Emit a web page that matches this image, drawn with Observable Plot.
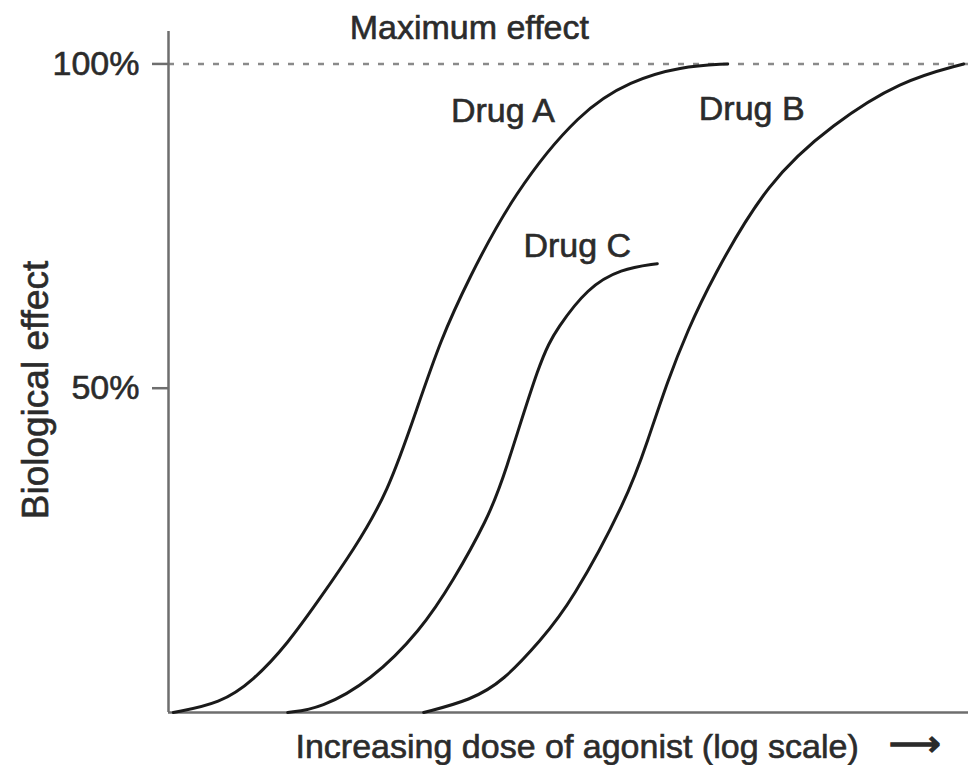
<!DOCTYPE html>
<html>
<head>
<meta charset="utf-8">
<script src="https://cdn.jsdelivr.net/npm/d3@7"></script>
<script src="https://cdn.jsdelivr.net/npm/@observablehq/plot@0.6"></script>
<style>
  html, body { margin: 0; padding: 0; background: #fff; }
  #chart svg { display: block; }
  #chart svg text { stroke: #2b2b2b; stroke-width: 0.6px; paint-order: stroke; }
  #chart svg g[font-size="36"] text { stroke-width: 1.6px; }
</style>
</head>
<body>
<div id="chart"></div>
<script>
// Log dose (arbitrary units) and biological effect (%)
const drugAX = [0.06, 0.65, 1.06, 1.49, 1.90, 2.31, 2.74, 3.11, 3.40, 3.74, 4.31, 5.15, 5.78, 6.40, 6.99];
const drugAY = [0, 1.4, 4.9, 10.6, 17.7, 25.0, 33.8, 47.0, 57.4, 66.6, 80.0, 92.8, 97.4, 99.6, 100];

const drugCX = [1.49, 1.90, 2.53, 3.15, 3.56, 3.99, 4.19, 4.65, 4.86, 5.24, 5.65, 6.11];
const drugCY = [0, 0.6, 4.9, 12.6, 20.3, 29.9, 36.1, 54.7, 59.3, 65.5, 68.4, 69.2];

const drugBX = [3.19, 3.78, 4.19, 4.65, 5.03, 5.74, 5.99, 6.24, 6.49, 6.78, 7.49, 8.31, 9.15, 9.94];
const drugBY = [0, 1.9, 4.9, 11.1, 16.8, 33.1, 41.9, 51.2, 58.9, 66.6, 82.0, 90.8, 97.4, 100];

const yTicks = [50, 100];
const maxEffect = [100];

const labelText = ["Maximum effect", "Drug A", "Drug B", "Drug C"];
const labelX = [3.76, 4.18, 7.29, 5.11];
const labelY = [103.9, 91.0, 91.3, 70.2];

const xTitle = "Increasing dose of agonist (log scale)";
const xArrow = "\u27F6";
const yTitle = "Biological effect";

const series = [
  ...drugAX.map((x, i) => ({drug: "Drug A", x, y: drugAY[i]})),
  ...drugCX.map((x, i) => ({drug: "Drug C", x, y: drugCY[i]})),
  ...drugBX.map((x, i) => ({drug: "Drug B", x, y: drugBY[i]}))
];
const labels = labelText.map((t, i) => ({t, x: labelX[i], y: labelY[i]}));

const FONT = "'Liberation Sans', Arial, sans-serif";
const TXT = "#2b2b2b";
const AX = "#6e6e6e";

const chart = Plot.plot({
  width: 977,
  height: 765,
  marginLeft: 168,
  marginRight: 9,
  marginTop: 31,
  marginBottom: 53,
  style: {fontFamily: FONT, background: "#fff", color: TXT},
  x: {domain: [0, 10], axis: null},
  y: {domain: [0, 105], axis: null},
  marks: [
    Plot.ruleY(maxEffect, {stroke: "#8a8a8a", strokeWidth: 2.5, strokeDasharray: "6,9"}),
    Plot.axisY({
      ticks: yTicks,
      tickFormat: d => d + "%",
      tickSize: 16,
      tickPadding: 13,
      fontSize: 34,
      stroke: AX,
      strokeWidth: 2.5,
      fill: TXT,
      label: null
    }),
    Plot.ruleX([0], {stroke: AX, strokeWidth: 2.5}),
    Plot.ruleY([0], {stroke: AX, strokeWidth: 2.5}),
    Plot.line(series, {x: "x", y: "y", z: "drug", curve: "basis", stroke: "#1a1a1a", strokeWidth: 3}),
    Plot.text(labels, {x: "x", y: "y", text: "t", lineAnchor: "bottom", fontSize: 34, fill: TXT}),
    Plot.text([yTitle], {frameAnchor: "left", rotate: -90, textAnchor: "middle", dx: -132, dy: 18, lineAnchor: "middle", fontSize: 37, fill: TXT}),
    Plot.text([xTitle], {frameAnchor: "bottom-left", textAnchor: "start", dx: 127, dy: 45, lineAnchor: "bottom", fontSize: 34, fill: TXT}),
    Plot.text([xArrow], {frameAnchor: "bottom-right", textAnchor: "end", dx: -28, dy: 32, lineAnchor: "middle", fontSize: 36, fill: TXT})
  ]
});
document.getElementById("chart").appendChild(chart);
</script>
</body>
</html>
